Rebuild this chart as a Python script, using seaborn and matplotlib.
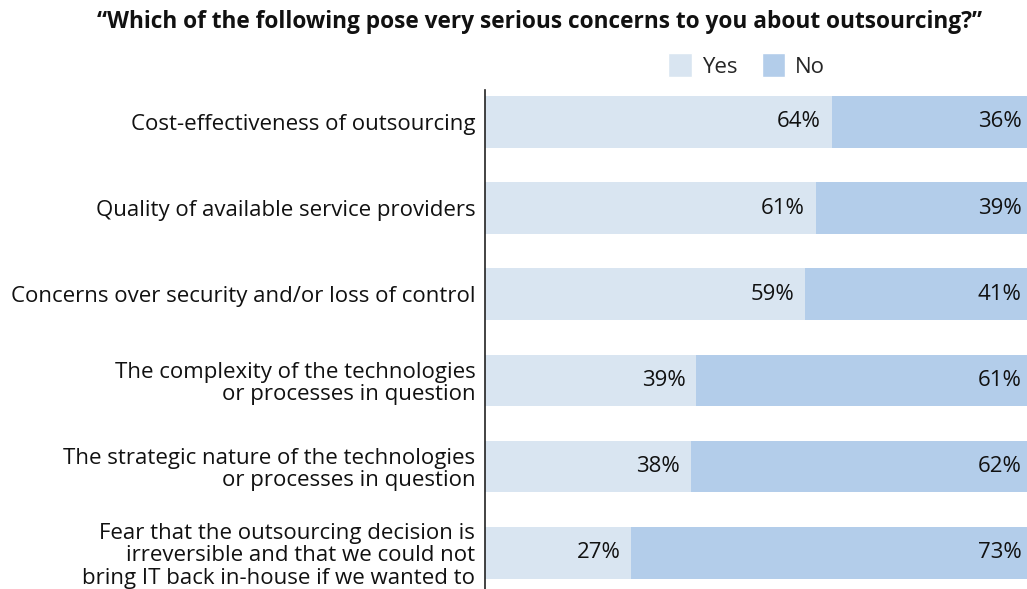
import matplotlib
matplotlib.use('Agg')
import matplotlib.pyplot as plt
import seaborn as sns
import pandas as pd
from matplotlib.patches import Patch

# Data
concerns = [
    "Cost-effectiveness of outsourcing",
    "Quality of available service providers",
    "Concerns over security and/or loss of control",
    "The complexity of the technologies\nor processes in question",
    "The strategic nature of the technologies\nor processes in question",
    "Fear that the outsourcing decision is\nirreversible and that we could not\nbring IT back in-house if we wanted to",
]
yes_pct = [64, 61, 59, 39, 38, 27]
no_pct = [36, 39, 41, 61, 62, 73]

YES_COLOR = '#D9E5F1'
NO_COLOR = '#B3CDEA'
FS = 16

sns.set_theme(style='white')
plt.rcParams['font.family'] = ['Open Sans', 'DejaVu Sans']

df = pd.DataFrame({'concern': concerns, 'yes': yes_pct, 'no': no_pct})
df['total'] = df['yes'] + df['no']

fig = plt.figure(figsize=(10.27, 5.89), dpi=100)
ax = fig.add_axes([0.4723, 0.0, 0.5277, 0.847])

# stacked bars: full total (No colour) underneath, Yes on top
sns.barplot(data=df, x='total', y='concern', color=NO_COLOR, orient='h',
            width=0.6, saturation=1, linewidth=0, ax=ax)
sns.barplot(data=df, x='yes', y='concern', color=YES_COLOR, orient='h',
            width=0.6, saturation=1, linewidth=0, ax=ax)

for i, row in df.iterrows():
    ax.text(row['yes'] - 2, i, f"{row['yes']}%", ha='right', va='center',
            fontsize=FS, color='#111111')
    ax.text(row['total'] - 1, i, f"{row['no']}%", ha='right', va='center',
            fontsize=FS, color='#111111')

ax.set_xlim(0, 100)
ax.set_ylim(5.42, -0.37)
ax.set_xlabel('')
ax.set_ylabel('')
ax.set_xticks([])
ax.tick_params(axis='y', length=0, pad=7, labelsize=FS)
for lab in ax.get_yticklabels():
    lab.set_horizontalalignment('right')
    lab.set_multialignment('right')
    lab.set_linespacing(1.08)
    lab.set_color('#111111')
for side in ['top', 'right', 'bottom']:
    ax.spines[side].set_visible(False)
ax.spines['left'].set_color('#222222')
ax.spines['left'].set_linewidth(1.2)

fig.text(0.525, 0.962, "\u201cWhich of the following pose very serious concerns to you about outsourcing?\u201d",
         ha='center', va='center', fontsize=16.3, fontweight='bold', color='#111111')

handles = [Patch(facecolor=YES_COLOR, label='Yes'), Patch(facecolor=NO_COLOR, label='No')]
fig.legend(handles=handles, loc='center', bbox_to_anchor=(0.727, 0.889), ncol=2,
           frameon=False, fontsize=FS, handlelength=1.05, handleheight=1.3,
           handletextpad=0.45, columnspacing=1.1)

fig.savefig('out.png', dpi=100)
